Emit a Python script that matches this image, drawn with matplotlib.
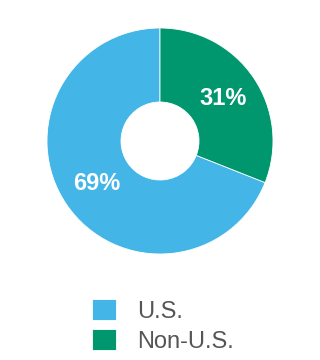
import matplotlib.pyplot as plt

# share of total
labels = ["U.S.", "Non-U.S."]
shares = [69, 31]
colors = ["#43B5E6", "#00976F"]

W, H = 320, 360
CX, CY, R = 160, 141, 113  # pixel centre and outer radius of the donut
INNER = 39


def main() -> None:
    plt.rcParams["font.family"] = ["Liberation Sans", "DejaVu Sans"]
    fig = plt.figure(figsize=(W / 100, H / 100), dpi=100)
    ax = fig.add_axes([(CX - R) / W, 1 - (CY + R) / H, 2 * R / W, 2 * R / H])

    width = 1 - INNER / R
    wedges, texts = ax.pie(
        shares,
        colors=colors,
        startangle=90,
        counterclock=True,
        radius=1,
        labels=[f"{s}%" for s in shares],
        labeldistance=1 - width / 2,
        wedgeprops={"width": width, "edgecolor": "white", "linewidth": 0.6},
        textprops={"color": "white", "fontsize": 17, "fontweight": "bold"},
    )
    for t in texts:
        t.set_ha("center")
        t.set_va("center")
    ax.set_xlim(-1, 1)
    ax.set_ylim(-1, 1)
    ax.set_aspect("equal")
    ax.axis("off")

    fig.legend(
        wedges,
        labels,
        loc="upper left",
        bbox_to_anchor=(92 / W, 1 - 299 / H),
        frameon=False,
        fontsize=17,
        handlelength=1.0,
        handleheight=1.0,
        handletextpad=0.9,
        labelspacing=0.27,
        borderpad=0,
        borderaxespad=0,
        labelcolor="#555555",
    )
    fig.savefig("out.png", dpi=100)


if __name__ == "__main__":
    main()
